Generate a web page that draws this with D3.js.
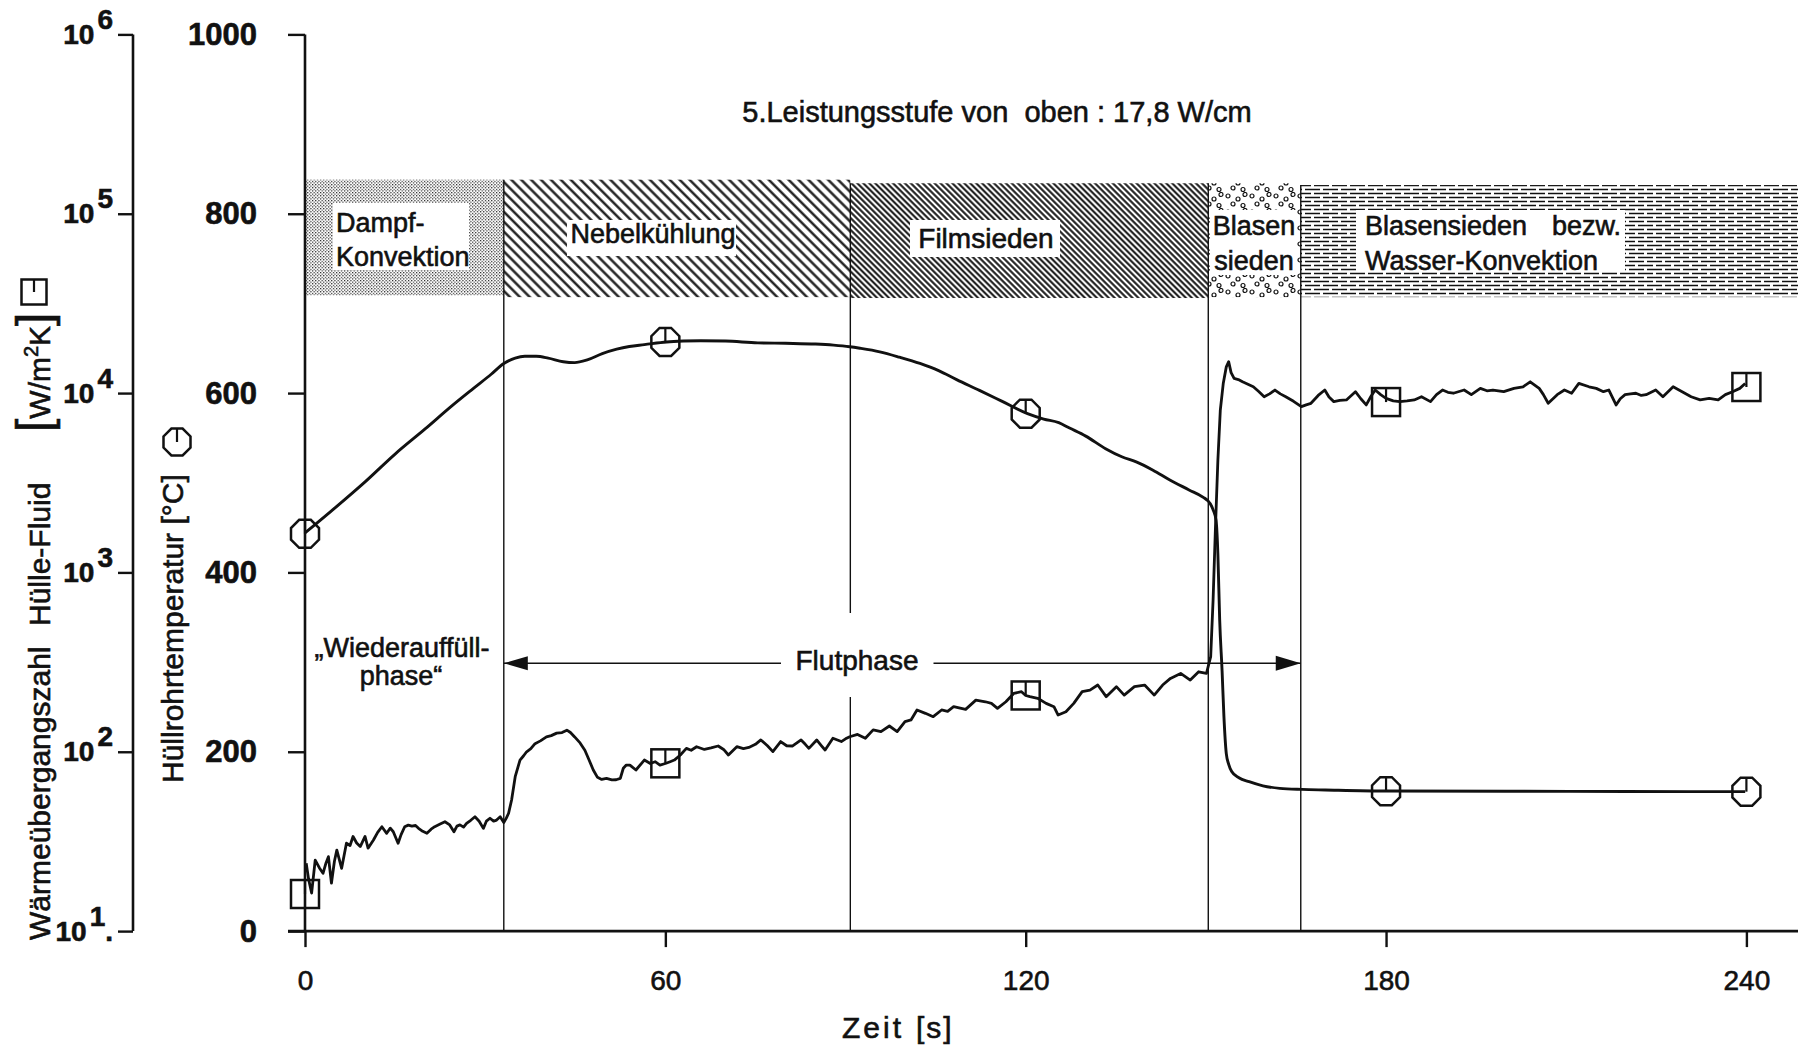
<!DOCTYPE html>
<html>
<head>
<meta charset="utf-8">
<script src="https://cdn.jsdelivr.net/npm/d3@7"></script>
<style>
  body { margin: 0; background: #fff; }
  svg { display: block; }
  text { font-family: "Liberation Sans", Arial, sans-serif; fill: #111; stroke: #111; stroke-width: 0.6px; }
</style>
</head>
<body>
<svg id="chart"></svg>
<script>
// ---- data ----
const timeTicks = [0, 60, 120, 180, 240];
const tempTicks = [0, 200, 400, 600, 800, 1000];
const htcTicks = [1e1, 1e2, 1e3, 1e4, 1e5, 1e6];

// cooling regimes along the time axis (s) and the band height (°C units)
const phaseStart = [0, 33.1, 90.8, 150.4, 165.8];
const phaseEnd = [33.1, 90.8, 150.4, 165.8, 248.6];
const phaseTop = [838, 838, 834, 834, 832];
const phaseBottom = [709, 707, 706, 707, 707];
const phasePattern = ["p-dampf", "p-nebel", "p-film", "p-blasen", "p-wasser"];

// cladding temperature [°C] over time [s]
const tempSeries = [
  [0, 444], [5, 472], [10, 501], [15, 532], [20, 560], [24.5, 586], [28, 605], [31, 621],
  [33.1, 633], [35, 639], [36.6, 641], [38.5, 641], [40.5, 639], [43, 635], [44.9, 634],
  [47, 637], [49.5, 644], [51.9, 649], [54, 652], [56.5, 654], [60.2, 657], [63, 658],
  [65.9, 658.4], [70, 658], [75.4, 656], [80, 655.5], [85, 654.7], [88, 653.5], [90.7, 651.7],
  [92.4, 650], [95.7, 646], [99, 640], [102.4, 633], [105.5, 625], [108.5, 615], [112.3, 603],
  [116, 591], [120.3, 577], [123, 571], [125.5, 567], [127.3, 561], [130, 552], [133.3, 538],
  [136, 529], [138.5, 523], [141.2, 514], [144, 503], [147.2, 492], [149.5, 484], [150.7, 477],
  [151.2, 470], [151.7, 458], [152.0, 420], [152.3, 347], [152.7, 290], [153.0, 240],
  [153.4, 198], [153.8, 186], [154.3, 178], [155.5, 171], [157.2, 166.6], [159.5, 162],
  [162.3, 159.2], [166, 158], [169.9, 157.4], [180.1, 156.2], [200, 156], [220, 155.7], [239.8, 155.5]
];

// heat transfer coefficient cladding-fluid [W/m²K] over time [s]
const htcSeries = [
  [0.2, 23.9], [0.6, 19.5], [1.1, 16.3], [1.7, 24.9], [2.4, 22.5], [3.0, 21.0], [3.5, 24.0], [3.9, 26.0],
  [4.4, 18.5], [4.9, 24.5], [5.3, 28.3], [6.1, 22.4], [6.9, 30.9], [7.5, 30.0], [8.0, 33.7], [8.6, 31.0],
  [9.2, 29.6], [10.0, 33.7], [10.5, 29.0], [11.4, 32.2], [12.1, 35.5], [12.8, 38.2], [13.6, 35.1],
  [14.2, 37.5], [14.7, 35.8], [15.5, 30.9], [16.0, 34.5], [16.6, 38.2], [17.2, 39.0], [17.8, 38.5],
  [18.4, 38.8], [18.9, 37.4], [19.6, 36.0], [20.3, 35.1], [21.0, 37.0], [21.6, 38.2], [22.5, 39.5],
  [23.3, 40.7], [24.1, 39.1], [24.8, 35.8], [25.3, 38.5], [25.8, 39.1], [26.4, 38.0], [26.9, 39.9],
  [27.6, 41.5], [28.3, 43.4], [29.0, 41.0], [29.7, 37.4], [30.2, 41.0], [30.8, 42.6], [31.4, 41.0],
  [31.9, 41.6], [32.5, 43.4], [33.1, 40.3], [33.5, 42.5], [33.9, 45.4], [34.4, 53.8], [35.0, 72.6],
  [35.8, 89.9], [36.4, 95], [36.9, 100], [37.6, 104], [38.3, 111], [39.2, 115], [40.2, 121], [41.0, 123],
  [41.9, 127], [42.8, 128], [43.6, 132], [44.2, 128], [44.9, 121], [45.8, 112], [46.6, 102], [47.3, 90],
  [48.0, 79.1], [48.7, 72], [49.4, 70.1], [50.2, 71.0], [51.1, 69.7], [51.8, 69.8], [52.5, 71],
  [53.0, 80.9], [53.5, 84.3], [54.1, 84.3], [55.1, 79.1], [56.5, 89.9], [57.5, 86], [58.3, 88],
  [59.1, 84.3], [60.0, 86], [60.8, 88], [61.5, 89.9], [62.5, 95.9], [63.5, 104.5], [64.3, 102],
  [65.2, 106.7], [66.5, 103], [67.6, 105], [68.8, 107.7], [69.7, 103], [70.5, 95.9], [71.9, 106.7],
  [73.0, 104], [73.9, 105.7], [75.0, 110], [75.9, 116.4], [77.0, 108], [77.9, 100.2], [79.2, 114],
  [80.2, 108], [81.2, 107.7], [82.6, 116.4], [83.3, 110], [83.9, 104.5], [85.2, 116.4], [86.0, 108],
  [86.6, 102.3], [87.9, 118.9], [89.3, 114], [90.0, 118], [90.7, 121.3], [92.0, 125], [93.3, 118.9],
  [94.6, 132.4], [95.9, 129.5], [97.3, 139.2], [98.6, 129.5], [99.9, 147.2], [100.9, 150.4],
  [101.9, 171], [103.3, 163.8], [104.6, 156.9], [106.0, 171], [107.0, 168], [108.0, 178.4],
  [110.0, 172.3], [111.7, 194], [113.3, 190], [114.3, 186], [115.3, 174.6], [116.7, 190], [118.0, 211.4],
  [119.3, 216.3], [120.0, 206], [120.7, 202.8], [122.0, 198.6], [123.4, 186.2], [124.7, 178.4],
  [125.4, 160.3], [126.7, 167.1], [128.0, 186.2], [129.4, 216.3], [130.7, 220.8], [132.0, 235.5],
  [133.4, 202.8], [135.1, 230.7], [136.4, 207], [138.1, 230.7], [139.8, 235.5], [141.4, 207],
  [142.8, 235.5], [144.1, 256.4], [145.8, 273.5], [147.4, 251], [148.8, 279.3], [150.1, 273.5],
  [150.8, 339], [151.2, 700], [151.6, 1800], [152.0, 4236], [152.4, 8000], [152.9, 11350],
  [153.4, 14000], [153.8, 14960], [154.2, 13000], [154.7, 12080], [155.4, 11900], [156.1, 11560],
  [157.0, 11200], [157.9, 10840], [158.8, 10200], [159.7, 9540], [160.6, 9900], [161.5, 10400],
  [162.4, 9900], [163.3, 9540], [164.6, 9000], [165.9, 8400], [166.7, 8600], [167.5, 8770],
  [168.7, 9700], [169.8, 10400], [170.5, 9500], [171.3, 8960], [172.3, 9100], [173.4, 9160],
  [174.9, 10180], [175.8, 9300], [176.7, 8590], [177.5, 9600], [178.2, 10400], [179.1, 9800],
  [180.0, 9350], [181.2, 9050], [182.3, 8960], [183.5, 9050], [184.7, 9160], [185.9, 9540],
  [187.4, 8960], [188.4, 9800], [189.4, 10400], [190.3, 10100], [191.2, 9980], [193.0, 10400],
  [194.2, 9800], [195.7, 10620], [196.8, 10300], [197.8, 10400], [199.6, 10180], [201.3, 10620],
  [202.8, 10840], [204.0, 11560], [205.5, 10620], [206.2, 9800], [207.0, 8770], [208.5, 9800],
  [209.7, 10400], [210.9, 9980], [212.1, 11330], [213.8, 10840], [215.0, 10620], [216.2, 10180],
  [217.1, 10400], [218.3, 8590], [219.0, 9300], [219.8, 9800], [220.7, 9900], [221.6, 9980],
  [222.5, 9700], [223.3, 9800], [224.9, 10400], [226.1, 9540], [227.8, 10840], [229.3, 10180],
  [230.8, 9540], [232.3, 9160], [233.8, 9350], [235.3, 9160], [236.5, 9800], [237.7, 10180],
  [238.9, 10620], [239.8, 11300]
];

// plotter markers every 60 s
const markTime = [0, 60, 120, 180, 240];
const tempMark = [443, 657, 577, 156, 155.5];
const htcMark = [16.1, 86.2, 206, 8910, 10810];

// ---- setup ----
const width = 1798, height = 1050;
const svg = d3.select("#chart").attr("width", width).attr("height", height);
svg.append("rect").attr("width", width).attr("height", height).attr("fill", "#fff");

const x = d3.scaleLinear().domain([0, 240]).range([305, 1746.4]);
const yT = d3.scaleLinear().domain([0, 1000]).range([931.1, 34.4]);
const yH = d3.scaleLog().domain([10, 1e6]).range([931.1, 34.4]);
const ink = "#111";

// ---- fill patterns for the regime bands ----
const defs = svg.append("defs");
const pDot = defs.append("pattern").attr("id", "p-dampf")
    .attr("patternUnits", "userSpaceOnUse").attr("width", 3.2).attr("height", 3.2);
pDot.append("rect").attr("width", 1.15).attr("height", 1.15).attr("fill", ink);
pDot.append("rect").attr("x", 1.6).attr("y", 1.6).attr("width", 1.15).attr("height", 1.15).attr("fill", ink);

function hatch(id, gap, sw) {
    const p = defs.append("pattern").attr("id", id)
        .attr("patternUnits", "userSpaceOnUse")
        .attr("width", gap).attr("height", gap)
        .attr("patternTransform", "rotate(-45)");
    p.append("line")
        .attr("x1", gap / 2).attr("x2", gap / 2).attr("y1", 0).attr("y2", gap)
        .attr("stroke", ink).attr("stroke-width", sw);
}
hatch("p-nebel", 7, 2.3);
hatch("p-film", 4.2, 2);

const pBub = defs.append("pattern").attr("id", "p-blasen")
    .attr("patternUnits", "userSpaceOnUse").attr("width", 24).attr("height", 16);
[[4, 4], [14, 7], [21, 2.5], [9, 12], [19, 13.5]].forEach(([cx, cy]) => {
    pBub.append("circle").attr("cx", cx).attr("cy", cy).attr("r", 2)
        .attr("fill", "none").attr("stroke", ink).attr("stroke-width", 1.2);
});

const pDash = defs.append("pattern").attr("id", "p-wasser")
    .attr("patternUnits", "userSpaceOnUse").attr("width", 36).attr("height", 8);
[[1.5, 0], [5.5, 9]].forEach(([yy, off]) => {
    pDash.append("line").attr("x1", 0).attr("x2", 36).attr("y1", yy).attr("y2", yy)
        .attr("stroke", ink).attr("stroke-width", 1.6)
        .attr("stroke-dasharray", "15 3").attr("stroke-dashoffset", off);
});

// ---- regime bands ----
svg.append("g").selectAll("rect")
    .data(phaseStart)
    .join("rect")
    .attr("x", (d, i) => x(d))
    .attr("width", (d, i) => x(phaseEnd[i]) - x(d))
    .attr("y", (d, i) => yT(phaseTop[i]))
    .attr("height", (d, i) => yT(phaseBottom[i]) - yT(phaseTop[i]))
    .attr("fill", (d, i) => `url(#${phasePattern[i]})`);

// white label boxes inside the bands
const boxes = [[333, 469, 203, 270], [567, 736, 220, 256], [910, 1060, 220, 257], [1210, 1296, 210, 275], [1356, 1625, 210, 272]];
svg.append("g").selectAll("rect")
    .data(boxes)
    .join("rect")
    .attr("x", d => d[0]).attr("width", d => d[1] - d[0])
    .attr("y", d => d[2]).attr("height", d => d[3] - d[2])
    .attr("fill", "#fff");

function label(txt, px, py, size, anchor) {
    return svg.append("text").attr("x", px).attr("y", py)
        .attr("font-size", size).attr("text-anchor", anchor || "start")
        .style("white-space", "pre").text(txt);
}
label("Dampf-", 336, 232, 27);
label("Konvektion", 336, 266, 27);
label("Nebelkühlung", 653, 243, 27, "middle");
label("Filmsieden", 986, 248, 28, "middle");
label("Blasen", 1254, 235, 27, "middle");
label("sieden", 1254, 270, 27, "middle");
label("Blasensieden", 1365, 235, 27);
label("bezw.", 1552, 235, 27);
label("Wasser-Konvektion", 1365, 270, 27);

// ---- regime boundary lines ----
const bounds = phaseEnd.slice(0, 4);
bounds.forEach((t, i) => {
    const top = yT(Math.min(phaseTop[i], phaseTop[i + 1]));
    const segs = t === 90.8 ? [[yT(phaseTop[i + 1]), 613], [697, yT(0)]] : [[top, yT(0)]];
    segs.forEach(([a, b]) => {
        svg.append("line").attr("x1", x(t)).attr("x2", x(t)).attr("y1", a).attr("y2", b)
            .attr("stroke", ink).attr("stroke-width", 1.4);
    });
});

// ---- flood phase arrow ----
const arrowY = 663.3;
[[x(bounds[0]), 781], [933.5, x(bounds[3])]].forEach(([a, b]) => {
    svg.append("line").attr("x1", a).attr("x2", b).attr("y1", arrowY).attr("y2", arrowY)
        .attr("stroke", ink).attr("stroke-width", 1.6);
});
const xa = x(bounds[0]), xb = x(bounds[3]);
svg.append("path").attr("d", `M${xa},${arrowY}L${xa + 24},${arrowY - 7}L${xa + 24},${arrowY + 7}Z`).attr("fill", ink);
svg.append("path").attr("d", `M${xb},${arrowY}L${xb - 25},${arrowY - 7.5}L${xb - 25},${arrowY + 7.5}Z`).attr("fill", ink);
label("Flutphase", 857, 670, 28, "middle");
label("\u201EWiederauffüll-", 402, 657, 27, "middle");
label("phase\u201C", 401, 685, 27, "middle");

// ---- title ----
label("5.Leistungsstufe von  oben : 17,8 W/cm", 997, 122, 29, "middle");

// ---- curves ----
const tempLine = d3.line().x(d => x(d[0])).y(d => yT(d[1])).curve(d3.curveMonotoneX);
const htcLine = d3.line().x(d => x(d[0])).y(d => yH(d[1]));
svg.append("path").attr("d", tempLine(tempSeries))
    .attr("fill", "none").attr("stroke", ink).attr("stroke-width", 2.9).attr("stroke-linejoin", "round");
svg.append("path").attr("d", htcLine(htcSeries))
    .attr("fill", "none").attr("stroke", ink).attr("stroke-width", 2.8).attr("stroke-linejoin", "round");

// ---- markers ----
function octagon(g, cx, cy, r) {
    const R = r / Math.cos(Math.PI / 8);
    const pts = d3.range(8).map(k => {
        const a = Math.PI / 8 + k * Math.PI / 4;
        return [cx + R * Math.cos(a), cy + R * Math.sin(a)];
    });
    g.append("path").attr("d", d3.line()(pts) + "Z")
        .attr("fill", "none").attr("stroke", ink).attr("stroke-width", 2.5);
    g.append("line").attr("x1", cx).attr("x2", cx).attr("y1", cy - r).attr("y2", cy)
        .attr("stroke", ink).attr("stroke-width", 2.2);
}
function square(g, cx, cy, r) {
    g.append("rect").attr("x", cx - r).attr("y", cy - r).attr("width", 2 * r).attr("height", 2 * r)
        .attr("fill", "none").attr("stroke", ink).attr("stroke-width", 2.5);
    g.append("line").attr("x1", cx).attr("x2", cx).attr("y1", cy - r).attr("y2", cy)
        .attr("stroke", ink).attr("stroke-width", 2.2);
}
const markers = svg.append("g");
markTime.forEach((t, i) => {
    octagon(markers, x(t), yT(tempMark[i]), 14);
    square(markers, x(t), yH(htcMark[i]), 14);
});

// ---- axes ----
function styleAxis(g) {
    g.attr("font-family", null).attr("font-size", null);
    g.selectAll(".tick line").attr("stroke", ink).attr("stroke-width", 2.4);
    g.select(".domain").remove();
}

// temperature axis
const tempAxis = svg.append("g").attr("transform", `translate(${x(0)},0)`)
    .call(d3.axisLeft(yT).tickValues(tempTicks).tickFormat(d3.format("d"))
        .tickSize(17).tickPadding(31).tickSizeOuter(0))
    .call(styleAxis);
tempAxis.selectAll(".tick text")
    .attr("font-family", '"Liberation Sans Narrow", "Liberation Sans", sans-serif')
    .attr("font-weight", "bold").attr("font-size", 31).attr("fill", ink);
svg.append("line").attr("x1", x(0)).attr("x2", x(0)).attr("y1", yT(1000)).attr("y2", yT(0))
    .attr("stroke", ink).attr("stroke-width", 2.6);

// heat transfer coefficient axis (log)
const htcAxis = svg.append("g").attr("transform", "translate(133,0)")
    .call(d3.axisLeft(yH).tickValues(htcTicks).tickSize(15).tickPadding(5).tickSizeOuter(0).tickFormat(() => ""))
    .call(styleAxis);
htcAxis.selectAll(".tick text")
    .attr("font-family", '"Liberation Sans Narrow", "Liberation Sans", sans-serif')
    .attr("font-weight", "bold").attr("font-size", 28).attr("fill", ink)
    .each(function(d) {
        const t = d3.select(this);
        const e = Math.round(Math.log10(d));
        t.append("tspan").text("10");
        t.append("tspan").attr("dx", 3).attr("dy", -15).text(e);
        if (e === 1) t.append("tspan").attr("dy", 15).text(".");
    });
svg.append("line").attr("x1", 133).attr("x2", 133).attr("y1", yH(1e6)).attr("y2", yH(10))
    .attr("stroke", ink).attr("stroke-width", 2.6);

// time axis
const timeAxis = svg.append("g").attr("transform", `translate(0,${yT(0)})`)
    .call(d3.axisBottom(x).tickValues(timeTicks).tickSize(16).tickSizeOuter(0))
    .call(styleAxis);
timeAxis.selectAll(".tick text")
    .attr("y", 59).attr("dy", null)
    .attr("font-family", '"Liberation Sans Narrow", "Liberation Sans", sans-serif')
    .attr("font-size", 28).attr("fill", ink);
svg.append("line").attr("x1", 288).attr("x2", width).attr("y1", yT(0)).attr("y2", yT(0))
    .attr("stroke", ink).attr("stroke-width", 2.6);

// axis titles
svg.append("text").attr("x", 842).attr("y", 1038).attr("font-size", 30)
    .attr("letter-spacing", 3).text("Zeit");
svg.append("text").attr("x", 916).attr("y", 1038).attr("font-size", 30)
    .attr("letter-spacing", 2).text("[s]");

const leftTitle = svg.append("g").attr("transform", "translate(50,0)");
[["Wärmeübergangszahl", 940], ["Hülle-Fluid", 626]].forEach(([s, pos]) => {
    leftTitle.append("text").attr("transform", `translate(0,${pos}) rotate(-90)`)
        .attr("font-size", 30).text(s);
});
const unit = leftTitle.append("text").attr("transform", "translate(0,432) rotate(-90)").attr("font-size", 30);
unit.append("tspan").attr("font-size", 48).text("[");
unit.append("tspan").text("W/m");
unit.append("tspan").attr("font-size", 20).attr("dy", -12).text("2");
unit.append("tspan").attr("dy", 12).text("K");
unit.append("tspan").attr("font-size", 48).text("]");
square(svg, 34, 292, 12.5);

svg.append("text").attr("transform", "translate(183,783) rotate(-90)")
    .attr("font-size", 30).style("white-space", "pre").text("Hüllrohrtemperatur [°C]");
octagon(svg, 177, 442, 13.5);
</script>
</body>
</html>
